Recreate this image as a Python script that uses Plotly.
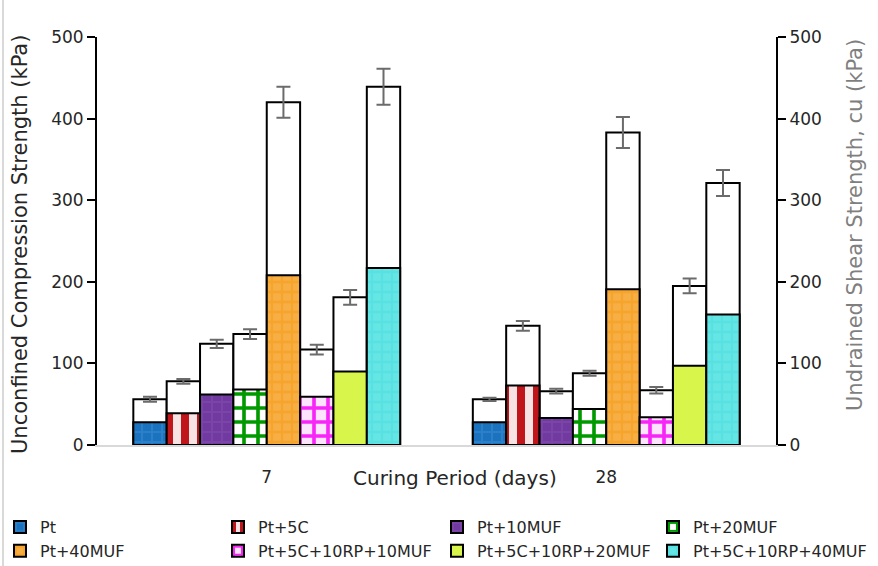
import plotly.graph_objects as go

# Curing periods (days)
periods = ["7", "28"]

# Mix designations
mixes = ["Pt", "Pt+5C", "Pt+10MUF", "Pt+20MUF", "Pt+40MUF",
         "Pt+5C+10RP+10MUF", "Pt+5C+10RP+20MUF", "Pt+5C+10RP+40MUF"]

# Unconfined compression strength qu (kPa) per mix: [7 d, 28 d]
ucs = {
    "Pt": [56, 56],
    "Pt+5C": [78, 146],
    "Pt+10MUF": [124, 66],
    "Pt+20MUF": [136, 88],
    "Pt+40MUF": [420, 383],
    "Pt+5C+10RP+10MUF": [117, 67],
    "Pt+5C+10RP+20MUF": [181, 195],
    "Pt+5C+10RP+40MUF": [439, 321],
}

# Standard deviation of qu (kPa)
ucs_err = {
    "Pt": [3, 2],
    "Pt+5C": [3, 6],
    "Pt+10MUF": [5, 3],
    "Pt+20MUF": [6, 3],
    "Pt+40MUF": [19, 19],
    "Pt+5C+10RP+10MUF": [6, 4],
    "Pt+5C+10RP+20MUF": [9, 9],
    "Pt+5C+10RP+40MUF": [22, 16],
}

# Undrained shear strength cu (kPa)
cu = {
    "Pt": [28, 28],
    "Pt+5C": [39, 73],
    "Pt+10MUF": [62, 33],
    "Pt+20MUF": [68, 44],
    "Pt+40MUF": [208, 191],
    "Pt+5C+10RP+10MUF": [59, 34],
    "Pt+5C+10RP+20MUF": [90, 97],
    "Pt+5C+10RP+40MUF": [217, 160],
}

# Fill styles for the cu bars: (background, foreground, pattern shape, size, solidity)
fills = {
    "Pt": ("#1b73bf", "#2b80c7", "+", 10, 0.35),
    "Pt+5C": ("#f7e3e3", "#c0161b", "|", 16, 0.5),
    "Pt+10MUF": ("#703aa0", "#7a45a6", "+", 10, 0.35),
    "Pt+20MUF": ("#ffffff", "#009a00", "+", 14, 0.45),
    "Pt+40MUF": ("#f7ae45", "#f6a42a", "+", 10, 0.4),
    "Pt+5C+10RP+10MUF": ("#fce4fc", "#f825f8", "+", 14, 0.45),
    "Pt+5C+10RP+20MUF": ("#d8f54c", "#d8f54c", "", 10, 0.3),
    "Pt+5C+10RP+40MUF": ("#66e5e5", "#57e1e1", "+", 10, 0.4),
}

FONT = "DejaVu Sans"
TXT = "#262626"
fig = go.Figure()

# qu: white outlined bars with error bars, left axis
for m in mixes:
    fig.add_trace(go.Bar(
        x=periods, y=ucs[m], name=m + " qu", showlegend=False,
        offsetgroup=m, alignmentgroup="mix",
        marker=dict(color="#ffffff", line=dict(color="#000000", width=2)),
        error_y=dict(type="data", array=ucs_err[m], color="#6b6b6b",
                     thickness=2, width=7),
        yaxis="y",
    ))

# cu: patterned bars on the right axis, drawn over the qu bars;
# legend laid out as four columns of two entries
legend_ids = ["legend", "legend2", "legend3", "legend4"]
for i, m in enumerate(mixes):
    bg, fg, shape, size, sol = fills[m]
    fig.add_trace(go.Bar(
        x=periods, y=cu[m], name=m, legend=legend_ids[i % 4],
        offsetgroup=m, alignmentgroup="mix",
        marker=dict(color=bg, line=dict(color="#000000", width=2),
                    pattern=dict(shape=shape, fgcolor=fg, bgcolor=bg,
                                 size=size, solidity=sol, fillmode="replace")),
        yaxis="y2",
    ))

tickfont = dict(family=FONT, size=17, color=TXT)
yax = dict(range=[0, 500], dtick=100, showgrid=False, zeroline=False,
           showline=True, linecolor="#000000", linewidth=2,
           ticks="outside", ticklen=8, tickwidth=2, tickcolor="#000000",
           tickfont=tickfont, fixedrange=True)
inner = dict(range=[0, 500], dtick=100, overlaying="y", anchor="x",
             showgrid=False, zeroline=False, showline=False,
             ticks="inside", ticklen=8, tickwidth=2, tickcolor="#000000",
             showticklabels=False)

W, H = 878, 566
ML, MR, MT, MB = 97, 102, 37, 121
PW, PH = W - ML - MR, H - MT - MB

def px_x(px):
    return (px - ML) / PW

def px_y(py):
    return (H - MB - py) / PH

legfont = dict(family=FONT, size=16, color=TXT)
col_left = [0, 218, 437, 653]
legends = {}
for lid, cx in zip(legend_ids, col_left):
    legends[lid] = dict(orientation="v", x=px_x(cx), xanchor="left",
                        y=px_y(510), yanchor="top", itemwidth=30,
                        tracegroupgap=0, font=legfont,
                        bgcolor="rgba(0,0,0,0)")

fig.update_layout(
    width=W, height=H,
    margin=dict(l=ML, r=MR, t=MT, b=MB, autoexpand=False),
    paper_bgcolor="#ffffff", plot_bgcolor="#ffffff",
    barmode="group", bargap=0.214, bargroupgap=0,
    font=dict(family=FONT, size=17, color=TXT),
    xaxis=dict(type="category", showgrid=False, zeroline=False,
               showline=True, linecolor="#d9d9d9", linewidth=2,
               ticks="", tickfont=tickfont, ticklabelstandoff=16),
    yaxis=dict(**yax, side="left"),
    yaxis2=dict(**yax, side="right", overlaying="y", anchor="x"),
    # inner halves of the crossing tick marks
    yaxis3=dict(**inner, side="left"),
    yaxis4=dict(**inner, side="right"),
    showlegend=True,
    **legends,
)

# axis titles
fig.add_annotation(text="Unconfined Compression Strength (kPa)",
                   xref="paper", yref="paper", x=px_x(20), y=px_y(245),
                   textangle=-90, showarrow=False, xanchor="center",
                   yanchor="middle", font=dict(family=FONT, size=21, color=TXT))
fig.add_annotation(text="Undrained Shear Strength, cu (kPa)",
                   xref="paper", yref="paper", x=px_x(855), y=px_y(225),
                   textangle=-90, showarrow=False, xanchor="center",
                   yanchor="middle", font=dict(family=FONT, size=21, color="#7f7f7f"))
fig.add_annotation(text="Curing Period (days)",
                   xref="paper", yref="paper", x=px_x(455), y=px_y(478),
                   showarrow=False, xanchor="center", yanchor="middle",
                   font=dict(family=FONT, size=20, color=TXT))

# faint chart-area border on the left edge
fig.add_shape(type="line", xref="paper", yref="paper",
              x0=px_x(3), x1=px_x(3), y0=px_y(H), y1=px_y(0),
              line=dict(color="#d9d9d9", width=2))

fig.write_html("out.html")
